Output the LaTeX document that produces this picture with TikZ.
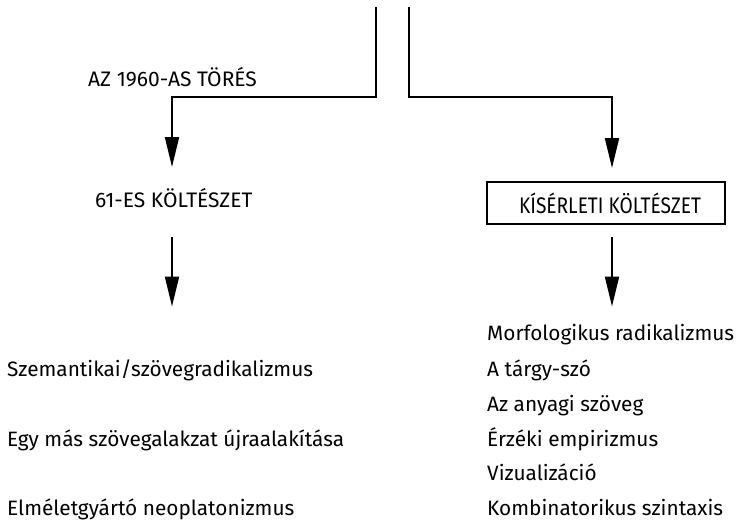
\documentclass[tikz,border=0pt]{standalone}
\usepackage{fontspec}
\setmainfont{Fira Sans}
\newfontfamily\narrowfont[FakeStretch=0.85]{Fira Sans}
\usetikzlibrary{arrows.meta}
\begin{document}
\begin{tikzpicture}[x=1pt,y=-1pt,
  arr/.style={line width=2pt,-{Triangle[length=30pt,width=14pt]}},
  lbl/.style={anchor=base west,inner sep=0pt,font=\fontsize{21}{24}\selectfont},
  item/.style={anchor=base west,inner sep=0pt,font=\fontsize{20.8}{24}\selectfont},
  framed/.style={draw,line width=2pt,minimum width=238pt,minimum height=42pt,inner sep=0pt,font=\narrowfont\fontsize{22.5}{24}\selectfont}]
\useasboundingbox (0,0) rectangle (739,523);
% branching trunk
\coordinate (lt) at (375.5,7);
\coordinate (lc) at (375.5,96.5);
\coordinate (lb) at (172,96.5);
\coordinate (la) at (172,167);
\coordinate (rt) at (408.5,7);
\coordinate (rc) at (408.5,96.5);
\coordinate (rb) at (612,96.5);
\coordinate (ra) at (612,168);
% labels
\node[lbl] (torres) at (88,86.5) {AZ 1960-AS TÖRÉS};
\node[lbl] (left) at (95,207.5) {61-ES KÖLTÉSZET};
\node[framed] (right) at (606,203) {\hspace*{8pt}KÍSÉRLETI KÖLTÉSZET};
\coordinate (l2s) at (172,236.5);
\coordinate (l2e) at (172,306.5);
\coordinate (r2s) at (612,236.5);
\coordinate (r2e) at (612,306.5);
% left list
\node[item] (s1) at (7,376) {Szemantikai/szövegradikalizmus};
\node[item] (s2) at (7,446) {Egy más szövegalakzat újraalakítása};
\node[item] (s3) at (7,515) {Elméletgyártó neoplatonizmus};
% right list
\node[item] (k1) at (487,340) {Morfologikus radikalizmus};
\node[item] (k2) at (487,376) {A tárgy-szó};
\node[item] (k3) at (487,411) {Az anyagi szöveg};
\node[item] (k4) at (487,446) {Érzéki empirizmus};
\node[item] (k5) at (487,480) {Vizualizáció};
\node[item] (k6) at (487,515) {Kombinatorikus szintaxis};
% connectors
\draw[arr] (lt) -- (lc) -- (lb) -- (la);
\draw[arr] (rt) -- (rc) -- (rb) -- (ra);
\draw[arr] (l2s) -- (l2e);
\draw[arr] (r2s) -- (r2e);
\end{tikzpicture}
\end{document}
